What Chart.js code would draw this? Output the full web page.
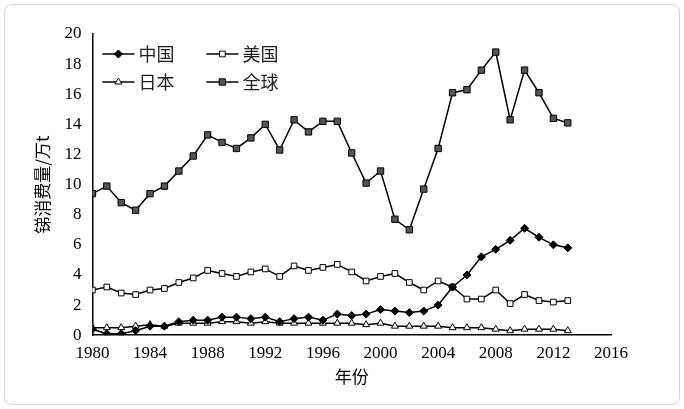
<!DOCTYPE html>
<html>
<head>
<meta charset="utf-8">
<script src="https://cdn.jsdelivr.net/npm/chart.js@4"></script>
<style>
  body { margin: 0; background: #fff; }
  #wrap { position: absolute; left: 4px; top: 4px; width: 674px; height: 399px; border: 1px solid #d8d8d8; border-radius: 8px; }
  canvas { position: absolute; left: 0; top: 0; }
</style>
</head>
<body>
<div id="wrap"></div>
<canvas id="c" width="684" height="409"></canvas>
<script>
var years = [];
for (var y = 1980; y <= 2013; y++) years.push(y);
var china = [0.4,0.1,0.1,0.3,0.6,0.6,0.9,1.0,1.0,1.2,1.2,1.1,1.2,0.9,1.1,1.2,1.0,1.4,1.3,1.4,1.7,1.6,1.5,1.6,2.0,3.2,4.0,5.2,5.7,6.3,7.1,6.5,6.0,5.8];
var usa = [3.0,3.2,2.8,2.7,3.0,3.1,3.5,3.8,4.3,4.1,3.9,4.2,4.4,3.9,4.6,4.3,4.5,4.7,4.2,3.6,3.9,4.1,3.5,3.0,3.6,3.2,2.4,2.4,3.0,2.1,2.7,2.3,2.2,2.3];
var japan = [0.5,0.5,0.5,0.6,0.7,0.6,0.8,0.8,0.8,0.9,0.9,0.8,0.9,0.8,0.8,0.8,0.8,0.8,0.8,0.7,0.8,0.6,0.6,0.6,0.6,0.5,0.5,0.5,0.4,0.3,0.4,0.4,0.4,0.3];
var world = [9.4,9.9,8.8,8.3,9.4,9.9,10.9,11.9,13.3,12.8,12.4,13.1,14.0,12.3,14.3,13.5,14.2,14.2,12.1,10.1,10.9,7.7,7.0,9.7,12.4,16.1,16.3,17.6,18.8,14.3,17.6,16.1,14.4,14.1];

function pts(arr) { return arr.map(function (v, i) { return { x: years[i], y: v } }) }

var serif = "'Liberation Serif', 'Times New Roman', serif";
var cjk = "'Noto Sans CJK SC', sans-serif";

var series = [
  { label: '中国', data: china, style: 'rectRot', bg: '#000', r: 4 },
  { label: '美国', data: usa, style: 'rect', bg: '#fff', r: 4 },
  { label: '日本', data: japan, style: 'triangle', bg: '#fff', r: 4 },
  { label: '全球', data: world, style: 'rect', bg: '#555', r: 4.5 }
];

// legend drawn inside the plot, two columns
var legendPlugin = {
  id: 'innerLegend',
  afterDraw: function (chart) {
    var ctx = chart.ctx, a = chart.chartArea;
    series.forEach(function (s, i) {
      var x = a.left + 10 + (i % 2) * 104, y = a.top + 20 + Math.floor(i / 2) * 28;
      ctx.save();
      ctx.strokeStyle = '#000'; ctx.lineWidth = 1.5;
      ctx.beginPath(); ctx.moveTo(x, y); ctx.lineTo(x + 32, y); ctx.stroke();
      ctx.fillStyle = s.bg; ctx.strokeStyle = '#000'; ctx.lineWidth = 1;
      Chart.helpers.drawPoint(ctx, { pointStyle: s.style, radius: s.r, borderWidth: 1 }, x + 16, y);
      ctx.fillStyle = '#222'; ctx.font = '18px ' + cjk; ctx.textBaseline = 'middle';
      ctx.fillText(s.label, x + 36, y);
      ctx.restore();
    });
  }
};

new Chart(document.getElementById('c').getContext('2d'), {
  type: 'scatter',
  data: {
    datasets: series.map(function (s) {
      return {
        label: s.label, data: pts(s.data), showLine: true,
        borderColor: '#000', borderWidth: 1.5,
        pointStyle: s.style, pointRadius: s.r, pointBackgroundColor: s.bg,
        pointBorderColor: '#000', pointBorderWidth: 1
      }
    })
  },
  options: {
    responsive: false, animation: false,
    layout: { padding: { left: 26, right: 73, top: 34, bottom: 22 } },
    plugins: { legend: { display: false }, tooltip: { enabled: false } },
    scales: {
      x: {
        type: 'linear', min: 1980, max: 2016,
        ticks: { stepSize: 4, color: '#000', font: { family: serif, size: 17 }, callback: function (v) { return v } },
        grid: { display: false, drawTicks: true, tickLength: 5, tickColor: '#000' },
        border: { color: '#000', width: 1.5 },
        title: { display: true, text: '年份', color: '#000', font: { family: cjk, size: 17 }, padding: 0 }
      },
      y: {
        min: 0, max: 20,
        ticks: { stepSize: 2, color: '#000', font: { family: serif, size: 17 }, padding: 6 },
        grid: { display: false, tickLength: 5, tickColor: '#000' },
        border: { color: '#000', width: 1.5 },
        title: { display: true, text: '锑消费量/万t', color: '#000', font: { family: cjk, size: 17 }, padding: 6 }
      }
    }
  },
  plugins: [legendPlugin]
});
</script>
</body>
</html>
